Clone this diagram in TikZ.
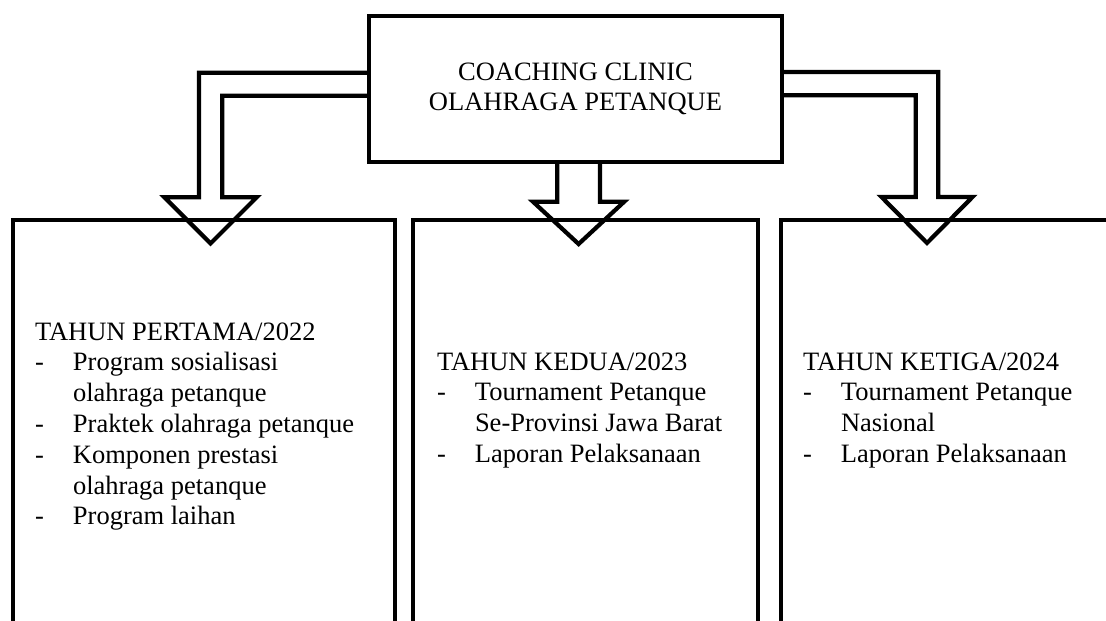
\documentclass[tikz,border=0pt]{standalone}
\usepackage{fontspec}
\setmainfont{Liberation Serif}
\usepackage{array}
\begin{document}
\begin{tikzpicture}[x=1pt,y=-1pt,
  box/.style={draw, line width=4.2pt, rectangle, outer sep=0pt, inner sep=0pt},
  blk/.style={draw, line width=4.2pt, line join=miter},
  txt/.style={inner sep=0pt, outer sep=0pt, anchor=base west, font=\fontsize{26.5}{30.8}\selectfont}]
\useasboundingbox (0,0) rectangle (1106,621);
\clip (0,0) rectangle (1106,621);
% top box
\node[box, minimum width=413pt, minimum height=146pt, align=center,
      font=\fontsize{26.5}{30}\selectfont] (top) at (575.5,89) {COACHING CLINIC\\OLAHRAGA PETANQUE};
% year boxes (open at the bottom, run off the page)
\node[box, minimum width=382pt, minimum height=520pt, anchor=north] (b1) at (204,220) {};
\node[box, minimum width=345pt, minimum height=520pt, anchor=north] (b2) at (585.5,220) {};
\node[box, minimum width=400pt, minimum height=520pt, anchor=north west] (b3) at (781,220) {};
% texts
\node[txt] (t1) at (35,340) {\begin{tabular}[t]{@{}p{38pt}@{}l@{}}
\multicolumn{2}{@{}l@{}}{TAHUN PERTAMA/2022}\\
- & Program sosialisasi\\
  & olahraga petanque\\
- & Praktek olahraga petanque\\
- & Komponen prestasi\\
  & olahraga petanque\\
- & Program laihan
\end{tabular}};
\node[txt] (t2) at (437,370) {\begin{tabular}[t]{@{}p{38pt}@{}l@{}}
\multicolumn{2}{@{}l@{}}{TAHUN KEDUA/2023}\\
- & Tournament Petanque\\
  & Se-Provinsi Jawa Barat\\
- & Laporan Pelaksanaan
\end{tabular}};
\node[txt] (t3) at (803,370) {\begin{tabular}[t]{@{}p{38pt}@{}l@{}}
\multicolumn{2}{@{}l@{}}{TAHUN KETIGA/2024}\\
- & Tournament Petanque\\
  & Nasional\\
- & Laporan Pelaksanaan
\end{tabular}};
% hollow block arrows
\draw[blk] (top.west |- 0,72.7) -- (199,72.7) -- (199,197.3) -- (164.5,197.3)
  -- (210.6,243.4) -- (256.7,197.3) -- (222.2,197.3) -- (222.2,95.7) -- (top.west |- 0,95.7);
\draw[blk] (top.south -| 557.3,0) -- (557.3,201.7) -- (533,201.7)
  -- (578.6,244) -- (624.2,201.7) -- (600,201.7) -- (top.south -| 600,0);
\draw[blk] (top.east |- 0,72) -- (938.3,72) -- (938.3,197) -- (972.5,197)
  -- (927,243) -- (881.5,197) -- (915.7,197) -- (915.7,95.3) -- (top.east |- 0,95.3);
\end{tikzpicture}
\end{document}
